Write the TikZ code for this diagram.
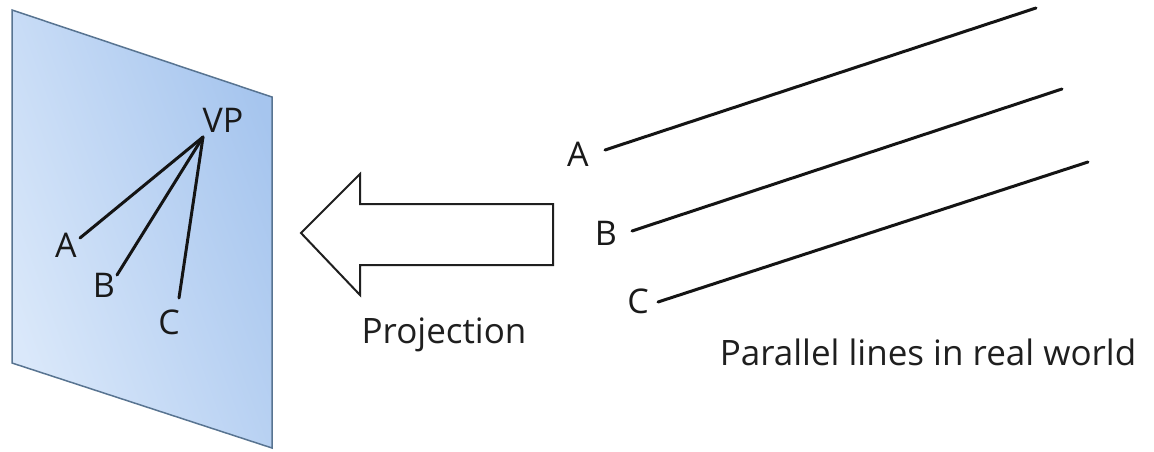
\documentclass[tikz,border=0pt]{standalone}
\usepackage{fontspec}
\setmainfont{Open Sans}
\definecolor{planeedge}{RGB}{88,116,145}
\definecolor{planedark}{RGB}{166,197,238}
\definecolor{planelight}{RGB}{218,232,250}
\begin{document}
\begin{tikzpicture}[x=1pt,y=-1pt,
  lbl/.style={inner sep=0pt,font=\fontsize{34}{40}\selectfont,text=black!90},
  bigtxt/.style={inner sep=0pt,anchor=base,font=\fontsize{35}{42}\selectfont,text=black!88},
  ray/.style={line width=3pt,black!92,line cap=round},
  plane/.style={draw=planeedge,line width=1.5pt,top color=planedark,bottom color=planelight,shading angle=-70},
  bigarrow/.style={draw=black!88,line width=2pt,fill=white,line join=miter}]
\useasboundingbox (0,0) rectangle (1154,452);
\fill[white] (0,0) rectangle (1154,452);
% image plane
\path[plane] (12,10) -- (272,97) -- (272,448) -- (12,363) -- cycle;
\coordinate (vp) at (203,137);
\coordinate (pa) at (80,238);
\coordinate (pb) at (117,275);
\coordinate (pc) at (179,298);
\draw[ray] (vp) -- (pa);
\draw[ray] (vp) -- (pb);
\draw[ray] (vp) -- (pc);
\node[lbl] (tvp) at (223,120) {VP};
\node[lbl] (tpa) at (66,245) {A};
\node[lbl] (tpb) at (104,285) {B};
\node[lbl] (tpc) at (169,322) {C};
% projection arrow
\path[bigarrow] (301,233) -- (360,174) -- (360,204) -- (553,204) -- (553,265) -- (360,265) -- (360,295) -- cycle;
\node[bigtxt] (proj) at (444,343) {Projection};
% parallel lines
\coordinate (a0) at (605,150);
\coordinate (a1) at (1036,8);
\coordinate (b0) at (632,231);
\coordinate (b1) at (1062,89);
\coordinate (c0) at (658,302);
\coordinate (c1) at (1088,162);
\draw[ray] (a0) -- (a1);
\draw[ray] (b0) -- (b1);
\draw[ray] (c0) -- (c1);
\node[lbl] (ra) at (578,154) {A};
\node[lbl] (rb) at (606,233) {B};
\node[lbl] (rc) at (638,301) {C};
\node[bigtxt] (par) at (928,365) {Parallel lines in real world};
\end{tikzpicture}
\end{document}
